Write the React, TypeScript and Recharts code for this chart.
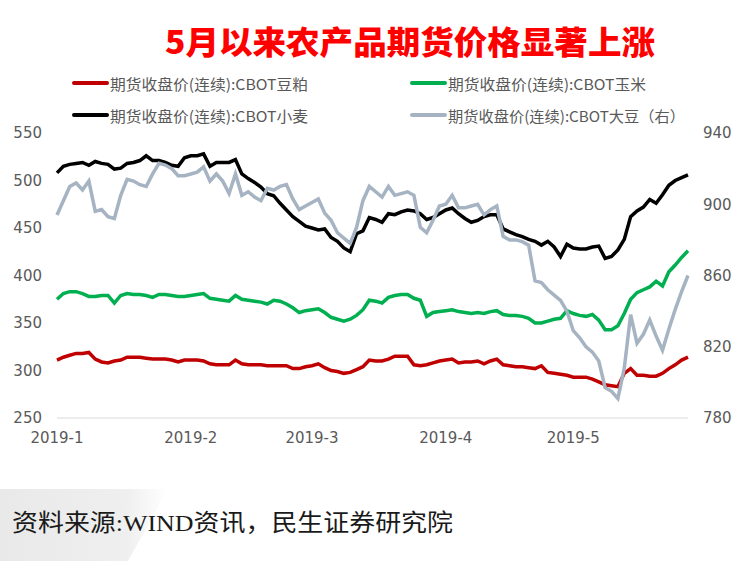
import React from "react";
import { LineChart, Line, XAxis, YAxis } from "recharts";

// CBOT 小麦 (left axis)
const wheat = [
  508, 515, 517, 518, 519, 516, 520, 518, 517, 512,
  513, 518, 519, 521, 526, 521, 521, 519, 516, 515,
  524, 526, 526, 528, 515, 519, 519, 519, 522, 507,
  502, 498, 493, 486, 484, 476, 469, 462, 457, 452,
  450, 448, 449, 440, 436, 429, 425, 444, 447, 461,
  459, 456, 465, 464, 467, 469, 468, 465, 459, 461,
  465, 469, 471, 465, 460, 456, 458, 462, 464, 464,
  449, 446, 443, 441, 438, 436, 432, 436, 430, 420,
  433, 429, 428, 428, 430, 431, 418, 420, 427, 438,
  462, 468, 472, 480, 476, 485, 495, 500, 503, 506,
];

// CBOT 大豆 (right axis)
const soybean = [
  894, 902, 910, 912, 908, 913, 896, 897, 893, 892,
  905, 914, 913, 911, 910, 917, 923, 922, 920, 916,
  916, 917, 918, 921, 913, 917, 913, 906, 917, 905,
  907, 904, 902, 909, 908, 910, 911, 903, 897, 899,
  901, 903, 895, 891, 884, 881, 878, 887, 902, 910,
  907, 904, 910, 905, 906, 907, 905, 887, 884, 891,
  899, 900, 905, 898, 898, 899, 900, 894, 897, 899,
  882, 880, 880, 879, 877, 857, 856, 852, 849, 846,
  840, 829, 825, 820, 817, 812, 797, 795, 791, 808,
  838, 822, 827, 835, 826, 818, 830, 841, 851, 860,
];

// CBOT 玉米 (left axis)
const corn = [
  375, 381, 383, 383, 381, 378, 378, 379, 379, 371,
  379, 381, 380, 380, 379, 377, 380, 380, 379, 378,
  378, 379, 380, 381, 376, 375, 374, 373, 379, 375,
  374, 373, 372, 370, 374, 373, 370, 366, 361, 363,
  364, 365, 361, 356, 354, 352, 354, 358, 364, 374,
  373, 371, 377, 379, 380, 380, 376, 374, 357, 361,
  362, 363, 364, 362, 361, 360, 361, 360, 362, 363,
  359, 358, 358, 357, 355, 350, 350, 352, 354, 355,
  363, 360, 358, 357, 359, 353, 343, 343, 347, 360,
  375, 382, 385, 388, 394, 389, 404, 411, 419, 426,
];

// CBOT 豆粕 (left axis)
const soyMeal = [
  311, 314, 316, 318, 318, 319, 312, 309, 308, 310,
  311, 314, 314, 314, 313, 312, 312, 312, 311, 309,
  311, 311, 311, 310, 307, 306, 306, 306, 311, 307,
  306, 306, 306, 305, 305, 305, 305, 302, 302, 304,
  305, 307, 303, 300, 299, 297, 298, 301, 304, 311,
  310, 310, 312, 315, 315, 315, 306, 305, 306, 308,
  310, 311, 312, 308, 309, 309, 310, 307, 310, 312,
  306, 305, 304, 304, 303, 302, 305, 298, 297, 296,
  295, 293, 293, 293, 291, 288, 285, 284, 283, 297,
  302, 295, 295, 294, 294, 297, 302, 306, 311, 314,
];

const monthTicks = [0, 21, 40, 61, 81];
const monthLabels = ["2019-1", "2019-2", "2019-3", "2019-4", "2019-5"];
const leftTicks = [250, 300, 350, 400, 450, 500, 550];
const rightTicks = [780, 820, 860, 900, 940];

const titleText = "5月以来农产品期货价格显著上涨";
const legendItems = [
  { key: "meal", name: "期货收盘价(连续):CBOT豆粕", color: "#c00000" },
  { key: "corn", name: "期货收盘价(连续):CBOT玉米", color: "#00b050" },
  { key: "wheat", name: "期货收盘价(连续):CBOT小麦", color: "#000000" },
  { key: "soy", name: "期货收盘价(连续):CBOT大豆（右）", color: "#a5b3c2" },
];
const sourceText = "资料来源:WIND资讯，民生证券研究院";

const data = wheat.map((_, i) => ({
  i,
  meal: soyMeal[i],
  corn: corn[i],
  wheat: wheat[i],
  soy: soybean[i],
}));

const tickStyle = { fill: "#595959", fontSize: 15, fontFamily: "DejaVu Sans" };

const legendPos = [
  { x: 74, y: 83, len: 198 },
  { x: 412, y: 83, len: 198 },
  { x: 74, y: 115, len: 198 },
  { x: 412, y: 115, len: 237 },
];

export default function App() {
  return (
    <div
      style={{
        position: "absolute",
        left: 0,
        top: 0,
        width: 748,
        height: 561,
        background: "#ffffff",
        overflow: "hidden",
      }}
    >
      <svg
        width={748}
        height={561}
        style={{ position: "absolute", left: 0, top: 0 }}
      >
        <defs>
          <linearGradient id="footBg" x1="0" y1="0" x2="1" y2="0">
            <stop offset="0" stopColor="#e9e9e9" />
            <stop offset="0.75" stopColor="#efefef" />
            <stop offset="1" stopColor="#ffffff" />
          </linearGradient>
        </defs>
        <polygon points="0,489 168,489 128,561 0,561" fill="url(#footBg)" />
        <text
          x={165}
          y={40}
          dominantBaseline="central"
          fill="#ff0000"
          fontSize={32}
          fontWeight={900}
          fontFamily="'Noto Sans CJK SC', sans-serif"
          textLength={490}
          lengthAdjust="spacingAndGlyphs"
        >
          {titleText}
        </text>
        {legendItems.map((it, k) => {
          const p = legendPos[k];
          return (
            <g key={it.key}>
              <line
                x1={p.x}
                x2={p.x + 33}
                y1={p.y}
                y2={p.y}
                stroke={it.color}
                strokeWidth={4}
                strokeLinecap="round"
              />
              <text
                x={p.x + 36}
                y={p.y}
                dominantBaseline="central"
                fill="#595959"
                fontSize={15}
                fontFamily="'Noto Sans CJK SC', sans-serif"
                textLength={p.len}
                lengthAdjust="spacingAndGlyphs"
              >
                {it.name}
              </text>
            </g>
          );
        })}
        <text
          x={12}
          y={523}
          dominantBaseline="central"
          fill="#1a1a1a"
          fontSize={24}
          fontFamily="'Liberation Serif', 'Noto Sans CJK SC', serif"
          textLength={441}
          lengthAdjust="spacingAndGlyphs"
        >
          {sourceText}
        </text>
      </svg>
      <div style={{ position: "absolute", left: 0, top: 0 }}>
        <LineChart
          width={748}
          height={470}
          data={data}
          margin={{ top: 133, right: 0, bottom: 22, left: 0 }}
        >
          <XAxis
            dataKey="i"
            type="number"
            domain={[0, 99]}
            ticks={monthTicks}
            interval={0}
            tickFormatter={(v: number) => monthLabels[monthTicks.indexOf(v)] ?? ""}
            tick={tickStyle}
            tickLine={false}
            tickSize={0}
            tickMargin={14}
            axisLine={{ stroke: "#d9d9d9", strokeWidth: 1 }}
            height={30}
          />
          <YAxis
            yAxisId="left"
            orientation="left"
            domain={[250, 550]}
            ticks={leftTicks}
            interval={0}
            tick={tickStyle}
            tickLine={false}
            tickSize={0}
            tickMargin={15}
            axisLine={false}
            width={57}
          />
          <YAxis
            yAxisId="right"
            orientation="right"
            domain={[780, 940]}
            ticks={rightTicks}
            interval={0}
            tick={tickStyle}
            tickLine={false}
            tickSize={0}
            tickMargin={15}
            axisLine={false}
            width={60}
          />
          <Line
            yAxisId="left"
            dataKey="meal"
            stroke="#c00000"
            strokeWidth={3.5}
            dot={false}
            type="linear"
            isAnimationActive={false}
          />
          <Line
            yAxisId="left"
            dataKey="corn"
            stroke="#00b050"
            strokeWidth={3.5}
            dot={false}
            type="linear"
            isAnimationActive={false}
          />
          <Line
            yAxisId="left"
            dataKey="wheat"
            stroke="#000000"
            strokeWidth={3.5}
            dot={false}
            type="linear"
            isAnimationActive={false}
          />
          <Line
            yAxisId="right"
            dataKey="soy"
            stroke="#a5b3c2"
            strokeWidth={3.5}
            dot={false}
            type="linear"
            isAnimationActive={false}
          />
        </LineChart>
      </div>
    </div>
  );
}
